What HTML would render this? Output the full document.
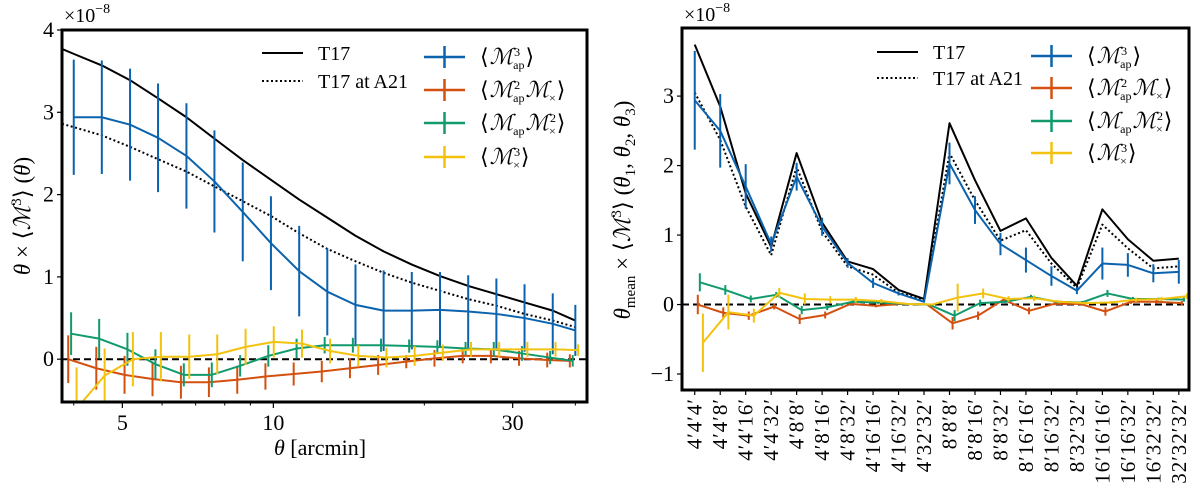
<!DOCTYPE html>
<html><head><meta charset="utf-8"><style>
html,body{margin:0;padding:0;background:#fff;}
svg, svg text{font-family:"Liberation Serif","DejaVu Serif",serif;}
</style></head><body>
<svg id="fig" width="1200" height="492" viewBox="0 0 1200 492" xmlns="http://www.w3.org/2000/svg" font-family="Liberation Serif, DejaVu Serif, serif">
<defs>
<clipPath id="clipL"><rect x="62" y="30" width="525" height="372"/></clipPath>
<clipPath id="clipR"><rect x="682" y="28" width="507" height="362"/></clipPath>
</defs>
<g id="left"></g>
<g id="right"></g>
</svg>
<script>
// ---------- LEFT PANEL DATA ----------
const thetaVals = [4.00,4.55,5.18,5.89,6.71,7.63,8.69,9.89,11.26,12.81,14.58,16.59,18.88,21.49,24.46,27.84,31.68,36.06,40.00];
const theoryX = [3.79,4.00,4.55,5.18,5.89,6.71,7.63,8.69,9.89,11.26,12.81,14.58,16.59,18.88,21.49,24.46,27.84,31.68,36.06,40.00];
const t17L = [3.77,3.71,3.57,3.39,3.17,2.94,2.68,2.42,2.18,1.94,1.72,1.50,1.31,1.15,1.01,0.89,0.79,0.69,0.59,0.47];
const t17A21L = [2.86,2.82,2.72,2.58,2.43,2.28,2.10,1.92,1.74,1.53,1.34,1.19,1.05,0.93,0.83,0.73,0.65,0.55,0.47,0.39];
const mapL = [2.94,2.94,2.85,2.69,2.47,2.16,1.79,1.41,1.07,0.82,0.66,0.59,0.59,0.60,0.58,0.55,0.50,0.43,0.35];
const mapErrL = [0.70,0.69,0.68,0.66,0.64,0.62,0.60,0.57,0.55,0.53,0.49,0.49,0.47,0.46,0.44,0.43,0.41,0.37,0.31];
const mmxL = [0.00,-0.11,-0.19,-0.24,-0.28,-0.28,-0.25,-0.21,-0.18,-0.15,-0.11,-0.07,-0.03,0.01,0.04,0.04,0.01,-0.01,-0.02];
const mmxErrL = [0.29,0.26,0.23,0.21,0.20,0.18,0.17,0.16,0.14,0.13,0.12,0.12,0.08,0.10,0.09,0.09,0.09,0.09,0.08];
const mxxL = [0.31,0.25,0.12,-0.06,-0.19,-0.19,-0.08,0.04,0.13,0.17,0.17,0.17,0.16,0.15,0.13,0.12,0.07,0.02,-0.02];
const mxxErrL = [0.26,0.24,0.20,0.18,0.14,0.15,0.13,0.13,0.12,0.10,0.09,0.08,0.08,0.08,0.08,0.09,0.09,0.08,0.07];
const xxxL = [-0.60,-0.20,0.00,0.03,0.03,0.06,0.15,0.21,0.19,0.10,0.04,0.02,0.04,0.08,0.12,0.12,0.12,0.12,0.11];
const xxxErrL = [0.50,0.33,0.33,0.30,0.27,0.24,0.22,0.19,0.17,0.15,0.13,0.12,0.12,0.10,0.09,0.09,0.09,0.09,0.07];
const yTicksL = [0,1,2,3,4];
const xMajorL = [5,10,30];
const xMinorL = [4,6,7,8,9,20,40];

// ---------- RIGHT PANEL DATA ----------
const triplets = ["4′4′4′","4′4′8′","4′4′16′","4′4′32′","4′8′8′","4′8′16′","4′8′32′","4′16′16′","4′16′32′","4′32′32′","8′8′8′","8′8′16′","8′8′32′","8′16′16′","8′16′32′","8′32′32′","16′16′16′","16′16′32′","16′32′32′","32′32′32′"];
const t17R = [3.74,2.85,1.60,0.83,2.18,1.18,0.62,0.51,0.21,0.08,2.61,1.79,1.06,1.24,0.67,0.27,1.37,0.94,0.63,0.66];
const t17A21R = [3.05,2.37,1.41,0.71,1.98,1.05,0.55,0.43,0.17,0.07,2.18,1.50,0.92,1.07,0.59,0.24,1.15,0.81,0.52,0.55];
const mapR = [2.94,2.50,1.70,0.87,1.84,1.12,0.60,0.31,0.16,0.04,2.03,1.36,0.87,0.64,0.41,0.20,0.59,0.57,0.45,0.47];
const mapErrR = [0.71,0.53,0.32,0.11,0.20,0.13,0.07,0.07,0.03,0.01,0.30,0.20,0.16,0.18,0.14,0.05,0.23,0.17,0.13,0.17];
const mmxR = [0.00,-0.12,-0.16,-0.03,-0.21,-0.15,0.01,-0.02,0.01,0.00,-0.27,-0.16,0.07,-0.09,0.01,0.01,-0.10,0.04,0.04,0.02];
const mmxErrR = [0.14,0.08,0.06,0.04,0.07,0.05,0.02,0.02,0.01,0.01,0.09,0.06,0.03,0.05,0.02,0.02,0.06,0.03,0.03,0.03];
const mxxR = [0.32,0.21,0.08,0.14,-0.08,-0.04,0.04,0.03,0.01,0.00,-0.16,0.02,0.04,0.11,0.04,0.03,0.16,0.08,0.08,0.07];
const mxxErrR = [0.13,0.07,0.05,0.04,0.06,0.04,0.02,0.02,0.01,0.01,0.08,0.05,0.02,0.03,0.02,0.02,0.05,0.03,0.02,0.03];
const xxxR = [-0.55,-0.11,-0.16,0.17,0.08,0.07,0.07,0.05,0.01,0.00,0.10,0.16,0.08,0.09,0.04,0.02,0.03,0.07,0.08,0.12];
const xxxErrR = [0.42,0.25,0.10,0.07,0.08,0.05,0.04,0.03,0.01,0.01,0.20,0.07,0.04,0.04,0.02,0.02,0.02,0.03,0.03,0.04];
const yTicksR = [-1,0,1,2,3];

const C = {blue:"#0b62ad", orange:"#d4500e", green:"#119a6c", yellow:"#f2c20f", black:"#000"};
const NS = "http://www.w3.org/2000/svg";
const FF = '"Liberation Serif", "DejaVu Serif", serif';
function mk(tag, attrs, parent){const e=document.createElementNS(NS,tag);for(const k in attrs)e.setAttribute(k,attrs[k]);if(tag==='text')e.style.fontFamily=FF;parent.appendChild(e);return e;}

const L = {x0:62,x1:587,y0:30,y1:402,lmin:Math.log10(3.79),lmax:Math.log10(42.2),vmin:-0.52,vmax:4.0};
const lx = v => L.x0 + (Math.log10(v)-L.lmin)/(L.lmax-L.lmin)*(L.x1-L.x0);
const ly = v => L.y1 - (v-L.vmin)/(L.vmax-L.vmin)*(L.y1-L.y0);
const R = {x0:682,x1:1189,y0:28,y1:390,imin:-0.5,imax:19.4,vmin:-1.23,vmax:3.98};
const rx = i => R.x0 + (i-R.imin)/(R.imax-R.imin)*(R.x1-R.x0);
const ry = v => R.y1 - (v-R.vmin)/(R.vmax-R.vmin)*(R.y1-R.y0);

function drawPanel(g, clip, xs, xf, yf, series, theory, x0, x1){
  const pg = mk('g',{'clip-path':'url(#'+clip+')'},g);
  
  
  const zl = mk('line',{x1:x0,x2:x1,y1:yf(0),y2:yf(0),stroke:'#000','stroke-width':2,'stroke-dasharray':'7,4'},pg);
  
  
  theory.forEach(t=>{
    const pts=t.x.map((x,i)=>xf(x)+','+yf(t.y[i])).join(' ');
    const pl=mk('polyline',{points:pts,fill:'none',stroke:'#000','stroke-width':2,'stroke-dasharray':t.dash||'none','stroke-linejoin':'round'},pg);
    
    
  });
  series.forEach(s=>{
    const sg=mk('g',{},pg);
    
    
    const pts=xs.map((x,i)=>xf(s.sh(x))+','+yf(s.y[i])).join(' ');
    const pl=mk('polyline',{points:pts,fill:'none',stroke:s.c,'stroke-width':2,'stroke-linejoin':'round'},sg);
    
    
    xs.forEach((x,i)=>{
      const px=xf(s.sh(x));
      const eb=mk('line',{x1:px,x2:px,y1:yf(s.y[i]+s.e[i]),y2:yf(s.y[i]-s.e[i]),stroke:s.c,'stroke-width':2},sg);
      
      
    });
  });
}

function frame(g,A){
  const r=mk('rect',{x:A.x0,y:A.y0,width:A.x1-A.x0,height:A.y1-A.y0,fill:'none',stroke:'#000','stroke-width':3},g);
  
  
}

function yticks(g,ticks,yf,x0){
  ticks.forEach(v=>{
    const t=mk('line',{x1:x0-5,x2:x0,y1:yf(v),y2:yf(v),stroke:'#000','stroke-width':1.2},g);
    
    
    const tx=mk('text',{x:x0-8,y:yf(v)+7,'text-anchor':'end','font-size':22},g);
    tx.textContent=v<0?'−'+Math.abs(v):String(v);
    
    
  });
}

function legend(g,lx0,tx0,ys,theoryY){
  const l1=mk('line',{x1:lx0,x2:lx0+41,y1:theoryY[0],y2:theoryY[0],stroke:'#000','stroke-width':2},g);
  
  
  const t1=mk('text',{x:lx0+56,y:theoryY[0]+7,'font-size':20},g);t1.textContent='T17';
  
  
  const l2=mk('line',{x1:lx0,x2:lx0+41,y1:theoryY[1],y2:theoryY[1],stroke:'#000','stroke-width':2,'stroke-dasharray':'2,2.5'},g);
  
  
  const t2=mk('text',{x:lx0+56,y:theoryY[1]+7,'font-size':20},g);t2.textContent='T17 at A21';
  
  
  const cols=[C.blue,C.orange,C.green,C.yellow];
  // [text, dy, fontSize, dx]
  const labels=[
    [['⟨',0],['ℳ',0,22,1],['3',-8,12,1],['ap',13,12,-7],['⟩',-5,22,1]],
    [['⟨',0],['ℳ',0,22,1],['2',-8,12,1],['ap',13,12,-7],['ℳ',-5,22,1],['×',5,12,0],['⟩',-5,22,1]],
    [['⟨',0],['ℳ',0,22,1],['ap',5,12,0],['ℳ',-5,22,1],['2',-8,12,1],['×',13,12,-7],['⟩',-5,22,1]],
    [['⟨',0],['ℳ',0,22,1],['3',-8,12,1],['×',13,12,-7],['⟩',-5,22,1]]
  ];
  const names=['map3','map2mx','mapmx2','mx3'];
  ys.forEach((y,i)=>{
    const m=mk('g',{},g);
    
    
    mk('line',{x1:tx0-56,x2:tx0-15,y1:y,y2:y,stroke:cols[i],'stroke-width':2.5},m);
    mk('line',{x1:tx0-35.5,x2:tx0-35.5,y1:y-11,y2:y+11,stroke:cols[i],'stroke-width':2.5},m);
    const t=mk('text',{x:tx0,y:y+7,'font-size':22},g);
    
    
    labels[i].forEach(p=>{
      const ts=mk('tspan',{},t);
      ts.setAttribute('dy',p[1]);
      if(p.length>2){ts.setAttribute('font-size',p[2]);if(p[3])ts.setAttribute('dx',p[3]);}
      if(p[0]==='ℳ')ts.setAttribute('font-style','italic');
      ts.textContent=p[0];
    });
  });
}

// ---------- draw LEFT ----------
const gL=document.getElementById('left');
const shOr=x=>x*0.975, shGr=x=>x*0.988, shYe=x=>x*1.013, sh0=x=>x;
drawPanel(gL,'clipL',thetaVals,lx,ly,[
  {name:'map3-series',c:C.blue,y:mapL,e:mapErrL,sh:sh0},
  {name:'map2mx-series',c:C.orange,y:mmxL,e:mmxErrL,sh:shOr},
  {name:'mapmx2-series',c:C.green,y:mxxL,e:mxxErrL,sh:shGr},
  {name:'mx3-series',c:C.yellow,y:xxxL,e:xxxErrL,sh:shYe}
],[
  {name:'t17-curve',x:theoryX,y:t17L},
  {name:'t17-a21-curve',x:theoryX,y:t17A21L,dash:'2,2.5'}
],L.x0,L.x1);
frame(gL,L);
yticks(gL,yTicksL,ly,L.x0);
xMajorL.forEach(v=>{
  const t=mk('line',{x1:lx(v),x2:lx(v),y1:L.y1,y2:L.y1+6,stroke:'#000','stroke-width':1.2},gL);
  
  
  const tx=mk('text',{x:lx(v),y:L.y1+28,'text-anchor':'middle','font-size':22},gL);
  tx.textContent=String(v);
  
  
});
xMinorL.forEach(v=>{
  const t=mk('line',{x1:lx(v),x2:lx(v),y1:L.y1,y2:L.y1+3.5,stroke:'#000','stroke-width':1},gL);
  
  
});
legend(gL,262,480,[57,90,123,157],[53,81]);

// ---------- draw RIGHT ----------
const gR=document.getElementById('right');
const idx=triplets.map((_,i)=>i);
drawPanel(gR,'clipR',idx,rx,ry,[
  {name:'map3-series',c:C.blue,y:mapR,e:mapErrR,sh:i=>i},
  {name:'map2mx-series',c:C.orange,y:mmxR,e:mmxErrR,sh:i=>i+0.12},
  {name:'mapmx2-series',c:C.green,y:mxxR,e:mxxErrR,sh:i=>i+0.2},
  {name:'mx3-series',c:C.yellow,y:xxxR,e:xxxErrR,sh:i=>i+0.32}
],[
  {name:'t17-curve',x:idx,y:t17R},
  {name:'t17-a21-curve',x:idx,y:t17A21R,dash:'2,2.5'}
],R.x0,R.x1);
frame(gR,R);
yticks(gR,yTicksR,ry,R.x0);
triplets.forEach((s,i)=>{
  const t=mk('line',{x1:rx(i),x2:rx(i),y1:R.y1,y2:R.y1+5,stroke:'#000','stroke-width':1.2},gR);
  
  
  const tx=mk('text',{x:0,y:0,'text-anchor':'end','font-size':21,'letter-spacing':1,transform:'translate('+(rx(i)+7)+','+(R.y1+8)+') rotate(-90)'},gR);
  tx.textContent=s;
  
  
});
legend(gR,877,1087,[56,88,121,153],[52,78]);

// ---------- titles ----------
const fig=document.getElementById('fig');
function txt(attrs,content,name){
  const t=document.createElementNS(NS,'text');
  for(const k in attrs)t.setAttribute(k,attrs[k]);
  t.style.fontFamily=FF;
  t.innerHTML=content;
  
  
  fig.appendChild(t);
}
txt({x:64,y:22,'font-size':20},'×10<tspan dy="-9" font-size="14">−8</tspan>','left-scale-label');
txt({x:684,y:21,'font-size':20},'×10<tspan dy="-9" font-size="14">−8</tspan>','right-scale-label');
txt({x:320,y:455,'text-anchor':'middle','font-size':22},'<tspan font-style="italic">θ</tspan>   [arcmin]','x-axis-title');
txt({x:0,y:0,'text-anchor':'middle','font-size':23,transform:'translate(30,216) rotate(-90)'},'<tspan font-style="italic">θ</tspan>  ×  ⟨<tspan font-style="italic">ℳ</tspan><tspan dy="-9" font-size="15">3</tspan><tspan dy="9">⟩ (</tspan><tspan font-style="italic">θ</tspan>)','left-y-axis-title');
txt({x:0,y:0,'text-anchor':'middle','font-size':23,transform:'translate(630,210) rotate(-90)'},'<tspan font-style="italic">θ</tspan><tspan dy="5" font-size="15">mean</tspan><tspan dy="-5">  ×  ⟨</tspan><tspan font-style="italic">ℳ</tspan><tspan dy="-9" font-size="15">3</tspan><tspan dy="9">⟩ (</tspan><tspan font-style="italic">θ</tspan><tspan dy="5" font-size="15">1</tspan><tspan dy="-5">, </tspan><tspan font-style="italic">θ</tspan><tspan dy="5" font-size="15">2</tspan><tspan dy="-5">, </tspan><tspan font-style="italic">θ</tspan><tspan dy="5" font-size="15">3</tspan><tspan dy="-5">)</tspan>','right-y-axis-title');
</script>
</body></html>
